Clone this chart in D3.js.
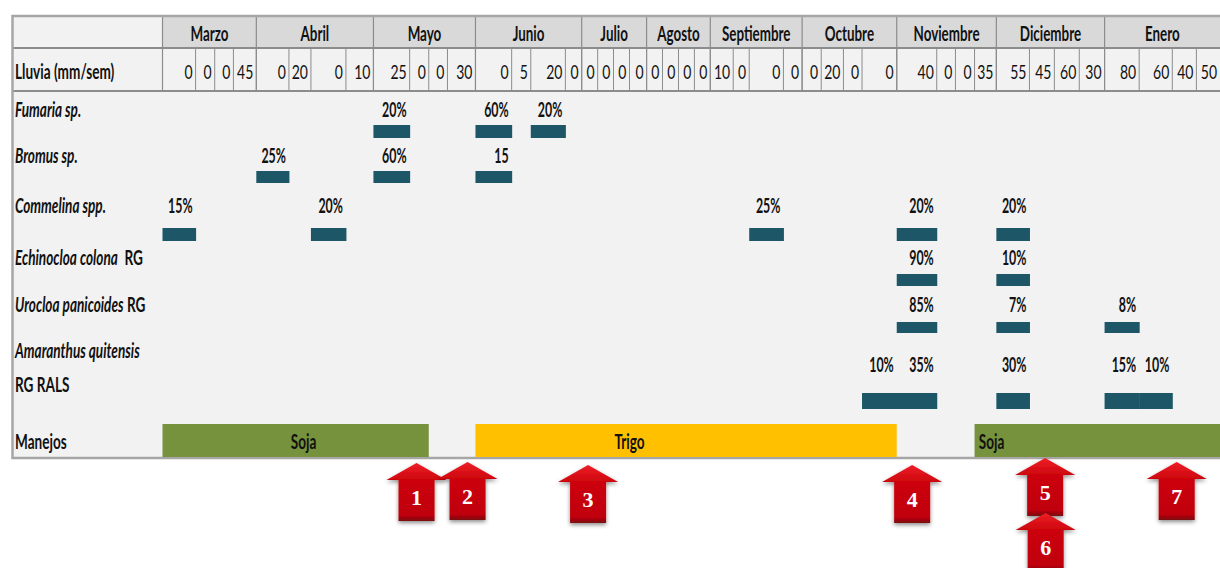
<!DOCTYPE html>
<html>
<head>
<meta charset="utf-8">
<script src="https://cdn.jsdelivr.net/npm/d3@7"></script>
<style>
html,body{margin:0;padding:0;background:#fff;overflow:hidden}
text{font-family:Lato,"Liberation Sans",sans-serif;fill:#111}
</style>
</head>
<body>
<div id="vis"></div>
<script>
var months = ["Marzo","Abril","Mayo","Junio","Julio","Agosto","Septiembre","Octubre","Noviembre","Diciembre","Enero"]
// rain per week, four weeks per month
var rain = [0,0,0,45, 0,20,0,10, 25,0,0,30, 0,5,20,0, 0,0,0,0, 0,0,0,0, 10,0,0,0, 0,20,0,0, 40,0,0,35, 55,45,60,30, 80,60,40,50]
// relative width of every week column in the sheet
var weekSpan = [33.1,19.1,18.7,22.9, 32.6,22,35,27.5, 36.2,19.1,18.7,28, 36.2,19.1,34.6,16.3, 16,15.8,16,17.1, 15.9,16,15.9,15.9, 22.9,16,34.2,18.7, 19.1,22.2,18.6,34.7, 40,18.7,19.1,21.8, 33.1,24.9,24.9,25.3, 34.6,33.1,24.1,23.6]

var fumariaWeeks = [8,12,14]
var fumariaCover = ["20%","60%","20%"]
var bromusWeeks = [4,8,12]
var bromusCover = ["25%","60%","15"]
var commelinaWeeks = [0,6,26,32,36]
var commelinaCover = ["15%","20%","25%","20%","20%"]
var echinochloaWeeks = [32,36]
var echinochloaCover = ["90%","10%"]
var urocloaWeeks = [32,36,40]
var urocloaCover = ["85%","7%","8%"]
var amaranthusWeeks = [31,32,36,40,41]
var amaranthusCover = ["10%","35%","30%","15%","10%"]

var cropNames = ["Soja","Trigo","Soja"]
var cropFirstWeek = [0,12,35]
var cropLastWeek = [9,31,43]
var cropNameAt = [141,467,829]

// treatments: number and place along the week axis
var arrowNumbers = [1,2,3,4,5,6,7]
var arrowAt = [254,305,425.5,749.5,882.5,883,1014]

var width = 1220, height = 568
var svg = d3.select("#vis").append("svg").attr("width",width).attr("height",height).style("display","block")

var edges = [0]
weekSpan.forEach(function(d,i){ edges.push(edges[i]+d) })
var x = d3.scaleLinear().domain([0,d3.sum(weekSpan)]).range([162.5,1220])
function weekL(i){ return x(edges[i]) }
function weekR(i){ return x(edges[i+1]) }

// the sheet font is very narrow, so squeeze every label sideways
function squeeze(sel,k){
    sel.attr("transform",function(){
        var t = d3.select(this)
        return "translate("+t.attr("x")+","+t.attr("y")+") scale("+k+",1)"
    }).attr("x",0).attr("y",0)
}

var defs = svg.append("defs")
var grad = defs.append("linearGradient").attr("id","arrowFill").attr("x1",0).attr("x2",0).attr("y1",0).attr("y2",1)
grad.append("stop").attr("offset","0").attr("stop-color","#ee2028")
grad.append("stop").attr("offset","0.3").attr("stop-color","#cc040c")
grad.append("stop").attr("offset","0.9").attr("stop-color","#c00008")
grad.append("stop").attr("offset","1").attr("stop-color","#7a0a0e")
var shadow = defs.append("filter").attr("id","arrowShadow").attr("x","-30%").attr("y","-30%").attr("width","160%").attr("height","160%")
shadow.append("feDropShadow").attr("dx",0).attr("dy",2).attr("stdDeviation",2).attr("flood-color","#000").attr("flood-opacity",0.45)

// sheet background
var sheetL = 12.5, sheetR = 1220, sheetT = 16, sheetB = 458
svg.append("rect").attr("x",sheetL).attr("y",sheetT).attr("width",sheetR-sheetL).attr("height",sheetB-sheetT).attr("fill","#f2f2f2")
svg.append("rect").attr("x",x(0)).attr("y",sheetT).attr("width",sheetR-x(0)).attr("height",32).attr("fill","#d9d9d9")

// month header
var monthRow = svg.append("g")
monthRow.selectAll("line").data(months).enter().append("line")
    .attr("x1",function(d,i){ return weekL(i*4) }).attr("x2",function(d,i){ return weekL(i*4) })
    .attr("y1",sheetT).attr("y2",91).attr("stroke","#8c8c8c").attr("stroke-width",1.2)
monthRow.selectAll("text").data(months).enter().append("text")
    .attr("x",function(d,i){ return (weekL(i*4)+weekR(i*4+3))/2 })
    .attr("y",41).attr("text-anchor","middle").attr("font-size",20).attr("font-weight","bold")
    .text(function(d){ return d })
    .call(squeeze,0.67)

// rain row
svg.append("text").attr("x",15).attr("y",79).attr("font-size",20).attr("font-weight","bold").text("Lluvia (mm/sem)").call(squeeze,0.68)
svg.selectAll(".rainLine").data(rain).enter().append("line").attr("class","rainLine")
    .attr("x1",function(d,i){ return weekL(i) }).attr("x2",function(d,i){ return weekL(i) })
    .attr("y1",49).attr("y2",91).attr("stroke","#8c8c8c").attr("stroke-width",1)
svg.selectAll(".rain").data(rain).enter().append("text").attr("class","rain")
    .attr("x",function(d,i){ return weekR(i)-3 })
    .attr("y",79).attr("text-anchor","end").attr("font-size",20)
    .text(function(d){ return d })
    .call(squeeze,0.7)

// frame
svg.append("line").attr("x1",sheetL).attr("x2",sheetR).attr("y1",48).attr("y2",48).attr("stroke","#8c8c8c").attr("stroke-width",2)
svg.append("line").attr("x1",sheetL).attr("x2",sheetR).attr("y1",91).attr("y2",91).attr("stroke","#8c8c8c").attr("stroke-width",2)
svg.append("rect").attr("x",sheetL).attr("y",sheetT).attr("width",sheetR-sheetL+4).attr("height",sheetB-sheetT)
    .attr("fill","none").attr("stroke","#a6a6a6").attr("stroke-width",2.5)

// weed rows
var rows = [
    {weeks:fumariaWeeks, cover:fumariaCover, textY:117, barY:125, barH:13},
    {weeks:bromusWeeks, cover:bromusCover, textY:163, barY:171, barH:12},
    {weeks:commelinaWeeks, cover:commelinaCover, textY:213, barY:228, barH:13},
    {weeks:echinochloaWeeks, cover:echinochloaCover, textY:265, barY:274, barH:12},
    {weeks:urocloaWeeks, cover:urocloaCover, textY:312, barY:322, barH:11},
    {weeks:amaranthusWeeks, cover:amaranthusCover, textY:372, barY:393, barH:16}
]

rows.forEach(function(row){
    var g = svg.append("g")
    g.selectAll("rect").data(row.weeks).enter().append("rect")
        .attr("x",function(d){ return weekL(d) })
        .attr("width",function(d){ return weekR(d)-weekL(d)+0.5 })
        .attr("y",row.barY).attr("height",row.barH).attr("fill","#1d5666")
    g.selectAll("text").data(row.weeks).enter().append("text")
        .attr("x",function(d){ return weekR(d)-3 })
        .attr("y",row.textY).attr("text-anchor","end").attr("font-size",20).attr("font-weight","bold")
        .text(function(d,i){ return row.cover[i] })
        .call(squeeze,0.62)
})

// row names
var names = [
    {y:117, it:"Fumaria sp.", re:""},
    {y:163, it:"Bromus sp.", re:""},
    {y:213, it:"Commelina spp.", re:""},
    {y:265, it:"Echinocloa colona", re:"  RG"},
    {y:312, it:"Urocloa panicoides", re:" RG"},
    {y:358, it:"Amaranthus quitensis", re:""},
    {y:392, it:"", re:"RG RALS"},
    {y:449, it:"", re:"Manejos"}
]
var nameText = svg.selectAll(".name").data(names).enter().append("text").attr("class","name")
    .attr("x",15).attr("y",function(d){ return d.y }).attr("font-size",20).attr("font-weight","bold").style("white-space","pre")
nameText.append("tspan").attr("font-style","italic").text(function(d){ return d.it })
nameText.append("tspan").text(function(d){ return d.re })
nameText.call(squeeze,0.68)

// crops
var cropColors = ["#76923c","#ffc000","#76923c"]
svg.selectAll(".crop").data(cropNames).enter().append("rect").attr("class","crop")
    .attr("x",function(d,i){ return weekL(cropFirstWeek[i]) })
    .attr("width",function(d,i){ return weekR(cropLastWeek[i])-weekL(cropFirstWeek[i]) })
    .attr("y",424).attr("height",33)
    .attr("fill",function(d,i){ return cropColors[i] })
svg.selectAll(".cropName").data(cropNames).enter().append("text").attr("class","cropName")
    .attr("x",function(d,i){ return x(cropNameAt[i]) })
    .attr("text-anchor","middle")
    .attr("y",449).attr("font-size",20).attr("font-weight","bold")
    .text(function(d){ return d })
    .call(squeeze,0.68)

// treatment arrows, tip height per arrow
var arrowTip = [463,462,465,465,458,513,462]
var arrowPath = "M0,0L30,17L18,17L18,58L-18,58L-18,17L-30,17Z"
var arrows = svg.selectAll(".arrow").data(arrowNumbers).enter().append("g").attr("class","arrow")
    .attr("transform",function(d,i){ return "translate("+x(arrowAt[i])+","+arrowTip[i]+")" })
arrows.append("path").attr("d",arrowPath).attr("fill","url(#arrowFill)").attr("filter","url(#arrowShadow)")
arrows.append("text").attr("y",42).attr("text-anchor","middle")
    .attr("font-size",22).attr("font-weight","bold")
    .style("font-family","'Liberation Serif',serif").style("fill","#fff")
    .text(function(d){ return d })
</script>
</body>
</html>
